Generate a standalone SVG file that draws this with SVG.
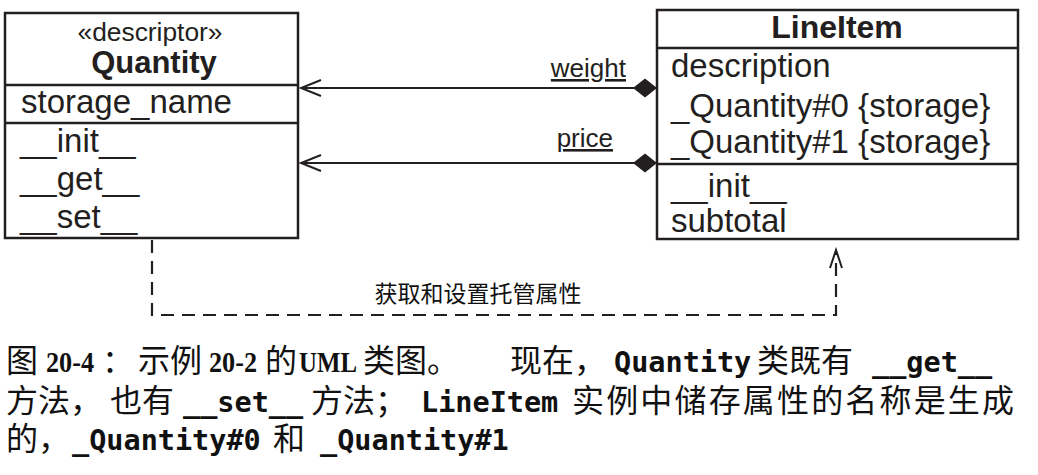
<svg xmlns="http://www.w3.org/2000/svg" width="1038" height="475" viewBox="0 0 1038 475">
<defs>
<style>
.box{fill:#fff;stroke:#231f20;stroke-width:2.5}
.div{stroke:#231f20;stroke-width:2.5}
.t{font-family:"Liberation Sans",Arial,sans-serif;font-size:33px;fill:#231f20}
.tb{font-family:"Liberation Sans",Arial,sans-serif;font-weight:bold;fill:#231f20}
.lbl{font-family:"Liberation Sans",Arial,sans-serif;font-size:26px;fill:#231f20;text-decoration:underline}
.ln{stroke:#231f20;stroke-width:2;fill:none}
.dash{stroke:#231f20;stroke-width:2.2;fill:none;stroke-dasharray:13 8}
.cap{font-family:"Noto Sans CJK SC",sans-serif;fill:#111;font-size:32px}
.cs{font-family:"Liberation Serif","Times New Roman",serif;font-weight:bold;font-size:30px}
.cm{font-family:"DejaVu Sans Mono","Liberation Mono",monospace;font-weight:bold;font-size:28.5px}
</style>
<marker id="open" markerWidth="24" markerHeight="20" refX="2" refY="10" orient="auto" markerUnits="userSpaceOnUse">
<path d="M22,2 L2,10 L22,18" fill="none" stroke="#231f20" stroke-width="2"/>
</marker>
</defs>
<rect width="1038" height="475" fill="#fff"/>

<g id="quantity">
<rect class="box" x="5" y="13" width="293" height="225"/>
<line class="div" x1="5" y1="85" x2="298" y2="85"/>
<line class="div" x1="5" y1="123" x2="298" y2="123"/>
<text class="t" x="150" y="41" text-anchor="middle" style="font-size:26px" textLength="145" lengthAdjust="spacingAndGlyphs">«descriptor»</text>
<text class="tb" x="154" y="73" font-size="31" text-anchor="middle">Quantity</text>
<text class="t" x="21" y="113">storage_name</text>
<text class="t" x="20" y="152">__init__</text>
<text class="t" x="20" y="190">__get__</text>
<text class="t" x="20" y="228">__set__</text>
</g>

<g id="lineitem">
<rect class="box" x="657" y="10" width="361" height="229"/>
<line class="div" x1="657" y1="48" x2="1018" y2="48"/>
<line class="div" x1="657" y1="164" x2="1018" y2="164"/>
<text class="tb" x="837" y="38" font-size="32" text-anchor="middle">LineItem</text>
<text class="t" x="671" y="77">description</text>
<text class="t" x="671" y="117">_Quantity#0 {storage}</text>
<text class="t" x="671" y="153">_Quantity#1 {storage}</text>
<text class="t" x="671" y="197">__init__</text>
<text class="t" x="671" y="232">subtotal</text>
</g>

<g id="connectors">
<line class="ln" x1="301" y1="88" x2="634" y2="88" marker-start="url(#open)"/>
<path d="M633,88 L645,78.5 L657,88 L645,97.5 Z" fill="#231f20"/>
<line class="ln" x1="301" y1="163" x2="634" y2="163" marker-start="url(#open)"/>
<path d="M633,163 L645,153.5 L657,163 L645,172.5 Z" fill="#231f20"/>
<text class="lbl" x="626" y="77" text-anchor="end">weight</text>
<text class="lbl" x="613" y="147" text-anchor="end">price</text>
<path class="dash" d="M152,240 L152,315 L836,315 L836,252"/>
<path d="M830,268 L836,250 L842,268" fill="none" stroke="#231f20" stroke-width="2"/>
<text class="cap" x="478" y="302" style="font-size:23px" text-anchor="middle">获取和设置托管属性</text>
</g>

<g id="caption">
<text class="cap" y="372"><tspan x="6">图</tspan><tspan class="cs" x="46" textLength="48" lengthAdjust="spacingAndGlyphs">20-4</tspan><tspan x="102">：</tspan><tspan x="138">示例</tspan><tspan class="cs" x="209" textLength="48" lengthAdjust="spacingAndGlyphs">20-2</tspan><tspan x="265">的</tspan><tspan class="cs" x="299" textLength="58" lengthAdjust="spacingAndGlyphs">UML</tspan><tspan x="363">类图。</tspan><tspan x="510">现在，</tspan><tspan class="cm" x="614">Quantity</tspan><tspan x="757">类既有</tspan><tspan class="cm" x="872">__get__</tspan></text>
<text class="cap" y="412"><tspan x="6">方法，</tspan><tspan x="110">也有</tspan><tspan class="cm" x="183">__set__</tspan><tspan x="311">方法；</tspan><tspan class="cm" x="421">LineItem</tspan><tspan x="572" textLength="442" lengthAdjust="spacing">实例中储存属性的名称是生成</tspan></text>
<text class="cap" y="450"><tspan x="6">的，</tspan><tspan class="cm" x="72">_Quantity#0</tspan><tspan x="273">和</tspan><tspan class="cm" x="320">_Quantity#1</tspan></text>
</g>
</svg>
